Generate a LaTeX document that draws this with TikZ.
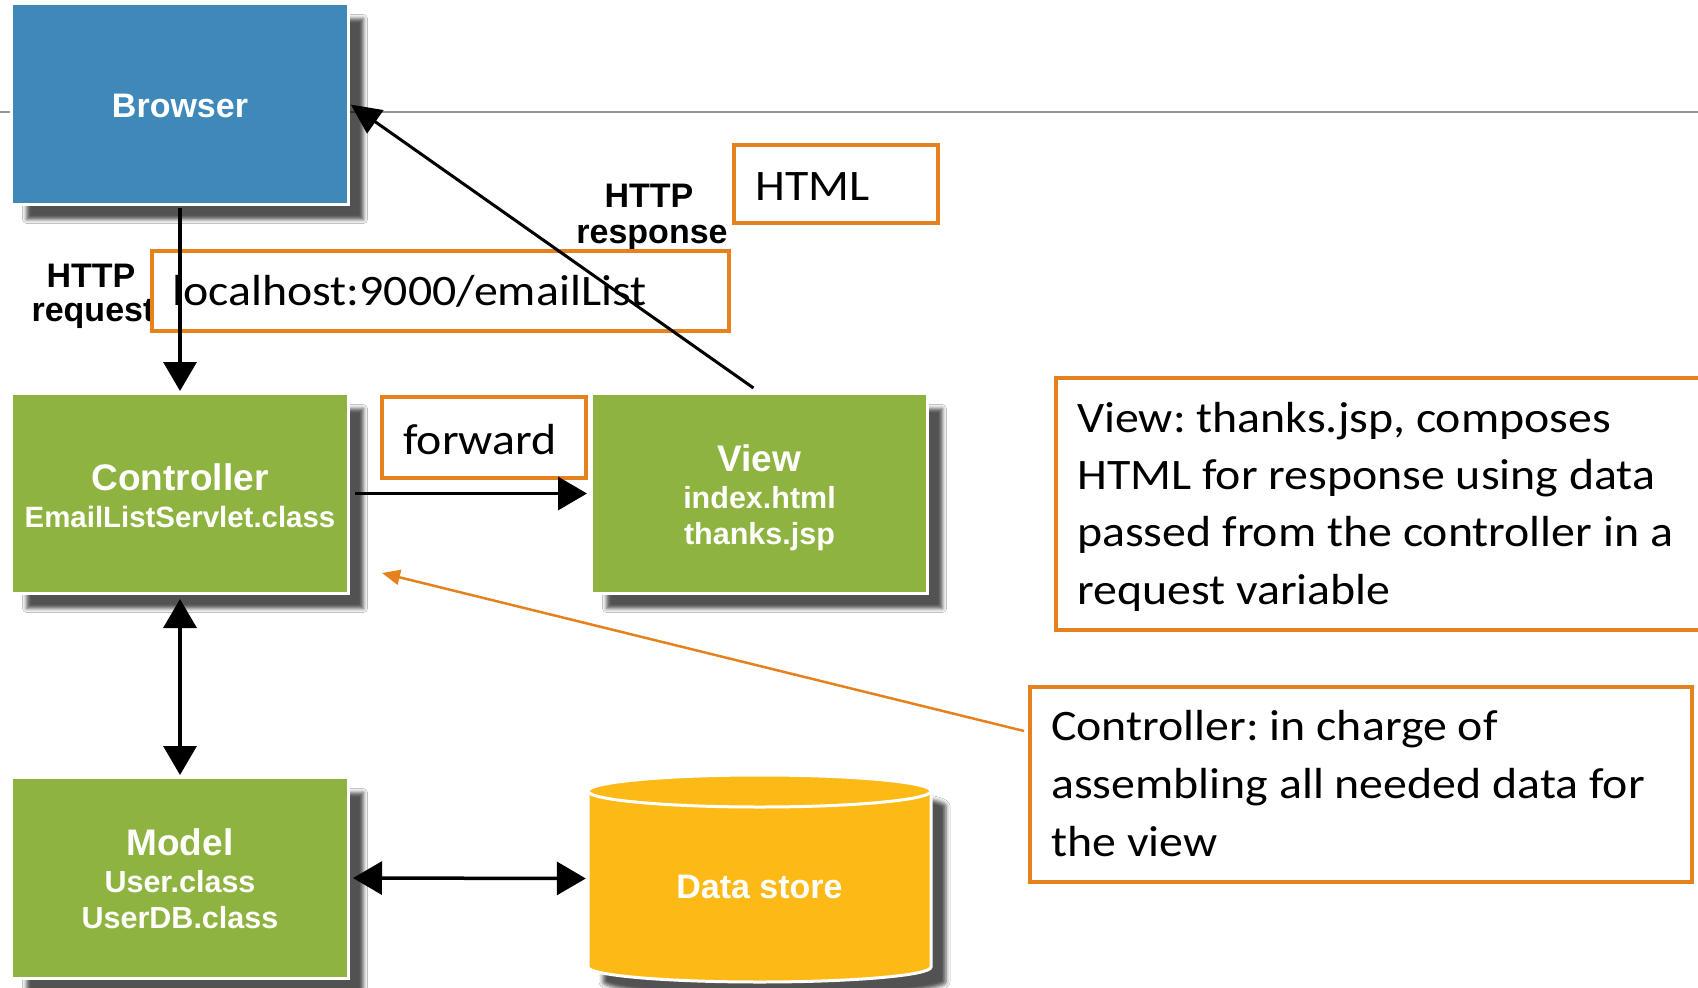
\documentclass[tikz,border=0pt]{standalone}
\usepackage{fontspec}
\setmainfont{Carlito}[FakeStretch=1.1]
\newfontfamily\labfont{Liberation Sans}
\usetikzlibrary{arrows.meta,shadows.blur}
\definecolor{bblue}{RGB}{63,136,186}
\definecolor{bgreen}{RGB}{143,179,64}
\definecolor{byellow}{RGB}{253,186,22}
\definecolor{borange}{RGB}{230,130,30}
\definecolor{lgray}{RGB}{150,150,150}
\frenchspacing
\begin{document}
\begin{tikzpicture}[x=1pt,y=-1pt,
  box/.style={draw=white, line width=3pt, inner sep=0pt,
    blur shadow={shadow xshift=15pt, shadow yshift=-15pt, shadow blur radius=4pt, shadow opacity=68}},
  lab/.style={text=white, inner sep=0pt, anchor=base},
  big/.style={font=\labfont\bfseries\fontsize{37}{37}\selectfont},
  small/.style={font=\labfont\bfseries\fontsize{30.5}{30.5}\selectfont},
  mid/.style={font=\labfont\bfseries\fontsize{34}{34}\selectfont},
  note/.style={draw=borange, line width=4pt, inner sep=0pt},
  ntext/.style={inner sep=0pt, anchor=base west, font=\fontsize{43.5}{52}\selectfont},
  hl/.style={inner sep=0pt, anchor=base, font=\labfont\bfseries\fontsize{34}{34}\selectfont},
  conn/.style={line width=3.5pt, -{Triangle[length=29pt,width=33pt,fill=black]}},
  dconn/.style={line width=3.5pt, {Triangle[length=29pt,width=33pt,fill=black]}-{Triangle[length=29pt,width=33pt,fill=black]}},
  ]
\useasboundingbox[fill=white] (0,0) rectangle (1698,988);
% thin gray rule
\coordinate (rl) at (0,112);
\coordinate (rr) at (1698,112);
\draw[lgray, line width=1.2pt] (rl) -- (rr);

% boxes
\node[box, fill=bblue, minimum width=337pt, minimum height=201pt] (browser) at (180,104) {};
\node[box, fill=bgreen, minimum width=337pt, minimum height=200pt] (ctrl) at (180,493.5) {};
\node[box, fill=bgreen, minimum width=336pt, minimum height=200pt] (view) at (759.5,493.5) {};
\node[box, fill=bgreen, minimum width=337pt, minimum height=201pt] (model) at (180,878) {};

% data store cylinder
\path[fill=byellow, draw=white, line width=3pt,
    blur shadow={shadow xshift=15pt, shadow yshift=-15pt, shadow blur radius=4pt, shadow opacity=68}]
  (588,791) -- (588,967) arc[start angle=180, end angle=0, x radius=171.5, y radius=15]
  -- (931,791) arc[start angle=0, end angle=-180, x radius=171.5, y radius=16] -- cycle;
\draw[white, line width=3pt] (588,791) arc[start angle=180, end angle=0, x radius=171.5, y radius=16];
\node[inner sep=0pt, minimum width=343pt, minimum height=207pt] (ds) at (759.5,878.5) {};

% box texts
\node[lab, mid] (browserT) at (180,117) {Browser};
\node[lab, big] (ctrlT) at (180,490) {Controller};
\node[lab, font=\labfont\bfseries\fontsize{29.4}{29.4}\selectfont] (ctrlT2) at (180,527) {EmailListServlet.class};
\node[lab, big] (viewT) at (759.5,471) {View};
\node[lab, small] (viewT2) at (759.5,508) {index.html};
\node[lab, small] (viewT3) at (759.5,544) {thanks.jsp};
\node[lab, big] (modelT) at (180,855) {Model};
\node[lab, small] (modelT2) at (180,892) {User.class};
\node[lab, small] (modelT3) at (180,928) {UserDB.class};
\node[lab, mid] (dsT) at (759.5,898) {Data store};

% HTTP labels
\node[hl] (reqA) at (91,287) {HTTP};
\node[hl] (reqB) at (93,321) {request};
\node[hl] (resA) at (649,207) {HTTP};
\node[hl] (resB) at (652,243) {response};

% orange boxes
\node[note, minimum width=577pt, minimum height=80pt] (url) at (440.5,291) {};
\node[ntext] (urlT) at (172,305) {localhost:9000/emailList};
\node[note, minimum width=204pt, minimum height=78pt] (html) at (836,184) {};
\node[ntext] (htmlT) at (755,200) {HTML};
\node[note, minimum width=204pt, minimum height=81pt] (fwd) at (484,437.5) {};
\node[ntext] (fwdT) at (403,454) {forward};

\node[note, minimum width=684pt, minimum height=252pt] (vnote) at (1398,504) {};
\node[ntext] (vn1) at (1077,432) {View: thanks.jsp, composes};
\node[ntext] (vn2) at (1077,489.3) {HTML for response using data};
\node[ntext] (vn3) at (1077,546.6) {passed from the controller in a};
\node[ntext] (vn4) at (1077,604) {request variable};

\node[note, minimum width=662pt, minimum height=195pt] (cnote) at (1361,784.5) {};
\node[ntext] (cn1) at (1051,740.5) {Controller: in charge of};
\node[ntext] (cn2) at (1051,798.5) {assembling all needed data for};
\node[ntext] (cn3) at (1051,856) {the view};

% connectors
\draw[conn, shorten <=2pt, shorten >=1pt] (browser.south) -- (ctrl.north);
\draw[conn, shorten <=5pt, shorten >=3pt] (ctrl.east) -- (view.west);
\draw[dconn, shorten <=4pt, shorten >=1pt] (ctrl.south) -- (model.north);
\draw[dconn, shorten <=3pt, shorten >=2pt] (model.east) -- (ds.west);
\draw[line width=3pt, -{Triangle[length=30pt,width=28pt,fill=black]}, shorten >=1pt]
  ([xshift=-6pt,yshift=4pt]view.north) -- (browser.east);
\coordinate (ostart) at (1024,731);
\coordinate (otip) at (382,573);
\draw[borange, line width=2.5pt, -{Triangle[length=18pt,width=15pt,fill=borange]}] (ostart) -- (otip);
\end{tikzpicture}
\end{document}
